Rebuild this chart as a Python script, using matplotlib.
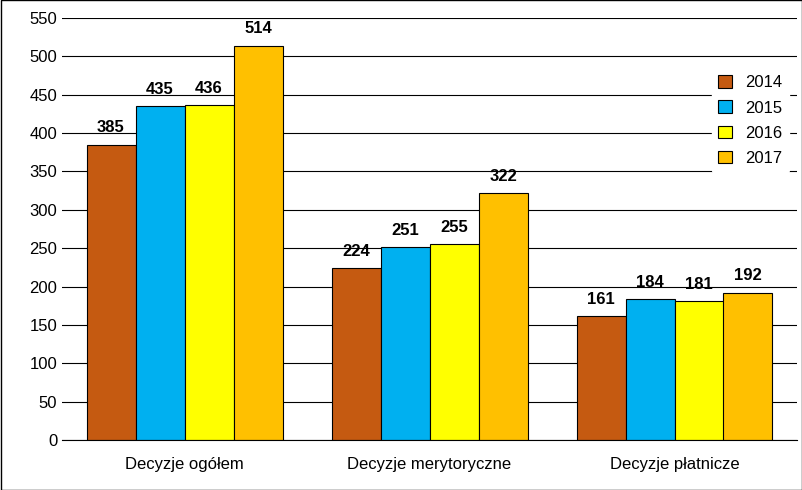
import matplotlib
matplotlib.use("Agg")
import matplotlib.pyplot as plt
import numpy as np
from matplotlib.patches import Rectangle

plt.rcParams["font.family"] = "Liberation Sans"

categories = ["Decyzje ogółem", "Decyzje merytoryczne", "Decyzje płatnicze"]
years = ["2014", "2015", "2016", "2017"]
values = {
    "2014": [385, 224, 161],
    "2015": [435, 251, 184],
    "2016": [436, 255, 181],
    "2017": [514, 322, 192],
}
colors = ["#C55A11", "#00B0F0", "#FFFF00", "#FFC000"]

fig = plt.figure(figsize=(8.02, 4.90), dpi=100)
ax = fig.add_axes([62/802, 50/490, 735/802, 422/490])
x = np.arange(len(categories))
w = 0.2
for i, y in enumerate(years):
    bars = ax.bar(x + (i - 1.5) * w, values[y], w, color=colors[i], edgecolor="black", linewidth=0.8, label=y)
    for b, v in zip(bars, values[y]):
        ax.text(b.get_x() + b.get_width() / 2, v + 12, str(v), ha="center", va="bottom",
                fontsize=12, fontweight="bold")

ax.set_xlim(-0.5, 2.5)
ax.set_ylim(0, 550)
ax.set_yticks(range(0, 551, 50))
ax.set_xticks(x)
ax.set_xticklabels(categories, fontsize=12)
ax.tick_params(axis="y", labelsize=12, length=0)
ax.tick_params(axis="x", length=0, pad=12)
ax.grid(axis="y", color="black", linewidth=0.8)
ax.set_axisbelow(True)
for s in ["top", "right", "left"]:
    ax.spines[s].set_visible(False)
ax.spines["bottom"].set_color("black")
ax.legend(loc="upper right", bbox_to_anchor=(1.0, 0.9), frameon=False, fontsize=12,
          handlelength=0.8, handleheight=0.8, labelspacing=0.6, framealpha=1)
leg = ax.get_legend()
leg.get_frame().set_facecolor("white")
leg.set_frame_on(True)
leg.get_frame().set_edgecolor("white")

fig.patches.append(Rectangle((0.5/802, 0.5/490), 1 - 1/802, 1 - 1/490, transform=fig.transFigure,
                             fill=False, edgecolor="black", linewidth=1))
fig.savefig("out.png", dpi=100)
